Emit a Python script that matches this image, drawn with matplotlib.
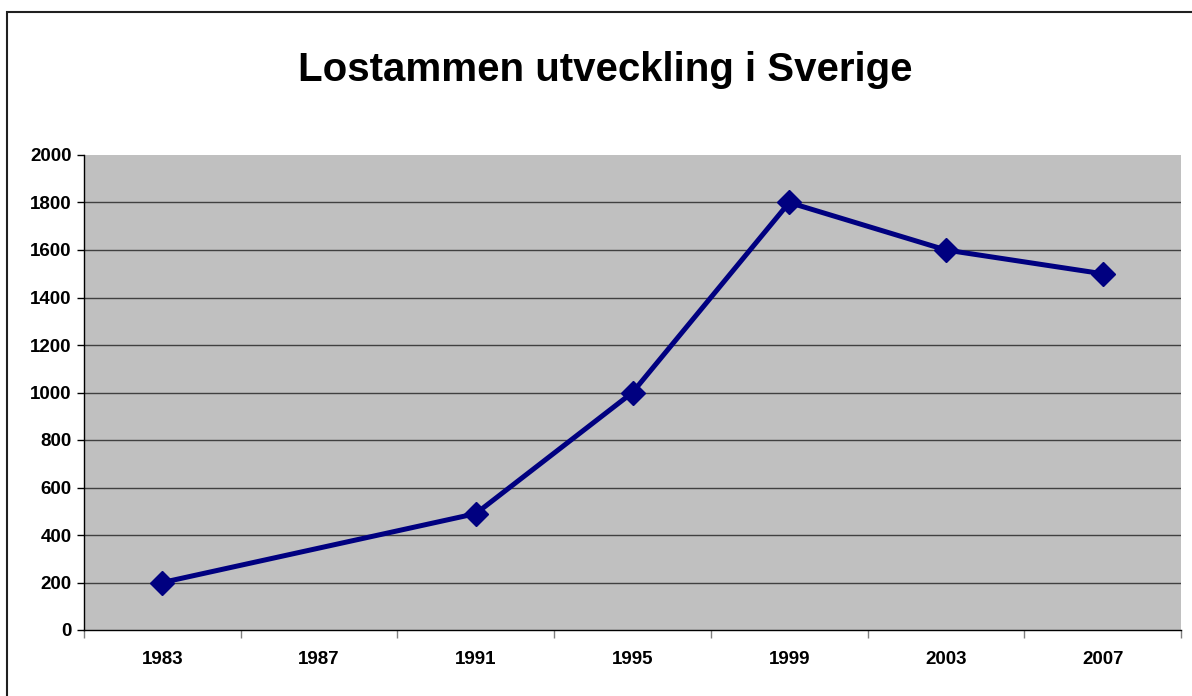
import matplotlib
matplotlib.use('Agg')
from matplotlib import pyplot as plt
from matplotlib.patches import Rectangle
import numpy as np

years = ['1983', '1987', '1991', '1995', '1999', '2003', '2007']
values = [200, np.nan, 490, 1000, 1800, 1600, 1500]
y_ticks = [0, 200, 400, 600, 800, 1000, 1200, 1400, 1600, 1800, 2000]

plt.rcParams['font.family'] = ['Liberation Sans', 'DejaVu Sans']

fig = plt.figure(figsize=(11.92, 6.96), dpi=100)
ax = fig.add_axes([84 / 1192, 1 - 630 / 696, (1181 - 84) / 1192, (630 - 155) / 696])
ax.set_facecolor('#C0C0C0')

x = np.arange(len(years))
vals = np.array(values, dtype=float)
mask = ~np.isnan(vals)
# empty year is bridged by the line, no marker
ax.plot(x[mask], vals[mask], color='#000080', lw=3.6, marker='D', markersize=12,
        markeredgecolor='#000080', markerfacecolor='#000080', zorder=3)

ax.set_xlim(-0.5, len(years) - 0.5)
ax.set_ylim(0, 2000)
ax.set_yticks(y_ticks)
ax.set_yticklabels([str(v) for v in y_ticks], fontsize=13.5, fontweight='bold')
ax.set_xticks(x)
ax.set_xticklabels(years, fontsize=13.5, fontweight='bold')
ax.set_xticks(np.arange(-0.5, len(years)), minor=True)
ax.tick_params(axis='x', which='major', length=0, pad=15)
ax.tick_params(axis='x', which='minor', length=6, width=1, color='#808080')
ax.tick_params(axis='y', length=5, width=1, pad=4)

for v in y_ticks[1:-1]:
    ax.axhline(v, color='#404040', lw=1, zorder=1)

ax.spines['top'].set_visible(False)
ax.spines['right'].set_visible(False)
ax.spines['left'].set_linewidth(1)
ax.spines['bottom'].set_linewidth(1)

fig.text(0.508, 1 - 70 / 696, 'Lostammen utveckling i Sverige', ha='center', va='center',
         fontsize=29, fontweight='bold')

fig.patches.append(Rectangle((7 / 1192, -0.01), 1.02, 1 - 12 / 696 + 0.01,
                             transform=fig.transFigure, fill=False,
                             edgecolor='#202020', lw=1.5))

fig.savefig('out.png', dpi=100)
